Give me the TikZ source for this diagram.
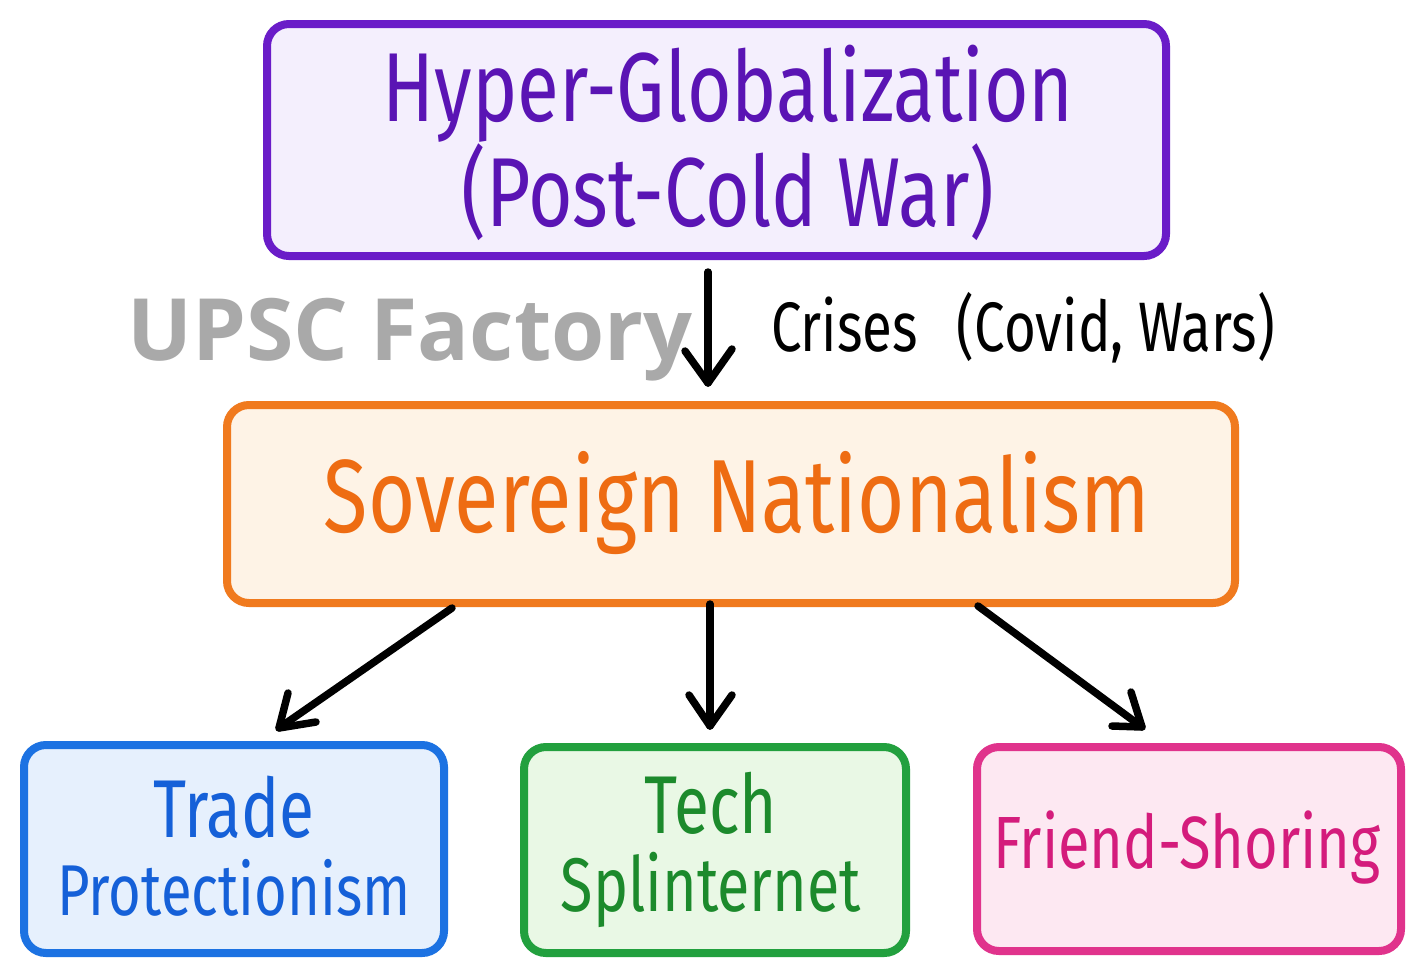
\documentclass[tikz,border=0pt]{standalone}
\usepackage{fontspec}
\usetikzlibrary{calc}
\newfontfamily\hand[FakeStretch=0.78]{Fira Sans}
\newfontfamily\wmark{Open Sans}
\definecolor{purpS}{HTML}{6A1CC8}
\definecolor{purpF}{HTML}{F4EFFD}
\definecolor{purpT}{HTML}{5A14B4}
\definecolor{oranS}{HTML}{F07A1E}
\definecolor{oranF}{HTML}{FEF3E6}
\definecolor{oranT}{HTML}{EE6C12}
\definecolor{blueS}{HTML}{1C72E2}
\definecolor{blueF}{HTML}{E6F0FD}
\definecolor{blueT}{HTML}{1560D8}
\definecolor{greenS}{HTML}{22A03E}
\definecolor{greenF}{HTML}{E9F8E5}
\definecolor{greenT}{HTML}{1C8A2C}
\definecolor{pinkS}{HTML}{E0338C}
\definecolor{pinkF}{HTML}{FDE8F2}
\definecolor{pinkT}{HTML}{D41C7C}
\definecolor{wmgray}{HTML}{A9A9A9}
\tikzset{
  boxrect/.style={draw, line width=8pt, rounded corners=22pt},
  lbl/.style={inner sep=0pt, align=center, font=\hand},
  flow/.style={line width=7.5pt, draw=black, line cap=round, line join=round},
  tip/.style={draw=black, line width=7.5pt, line cap=round, line join=round},
}
\begin{document}
\begin{tikzpicture}[x=1pt,y=-1pt]
\useasboundingbox[fill=white] (0,0) rectangle (1426,978);
% boxes
\path[boxrect, draw=purpS, fill=purpF] (267,24) rectangle (1166,256);
\node[inner sep=0pt, minimum width=899pt, minimum height=232pt] (top) at (716.5,140) {};
\node[lbl, text=purpT, font=\hand\fontsize{98}{86}\selectfont] (toptxt) at (728,143) {Hyper-Globalization\\(Post-Cold War)};

\path[boxrect, draw=oranS, fill=oranF] (227,405) rectangle (1235,603);
\node[inner sep=0pt, minimum width=1008pt, minimum height=198pt] (mid) at (731,504) {};
\node[lbl, text=oranT, font=\hand\fontsize{104}{110}\selectfont] (midtxt) at (737,503) {Sovereign Nationalism};

\path[boxrect, draw=blueS, fill=blueF] (24,745) rectangle (444,953);
\node[inner sep=0pt, minimum width=420pt, minimum height=208pt] (trade) at (234,849) {};
\node[lbl, text=blueT, font=\hand\fontsize{72}{78}\selectfont] (tradetxt) at (234,846) {{\fontsize{82}{78}\selectfont Trade}\\Protectionism};

\path[boxrect, draw=greenS, fill=greenF] (524,747) rectangle (906,953);
\node[inner sep=0pt, minimum width=382pt, minimum height=206pt] (tech) at (715,850) {};
\node[lbl, text=greenT, font=\hand\fontsize{76}{78}\selectfont] (techtxt) at (711,850) {{\fontsize{82}{78}\selectfont Tech}\\Splinternet};

\path[boxrect, draw=pinkS, fill=pinkF] (977,747) rectangle (1401,951);
\node[inner sep=0pt, minimum width=424pt, minimum height=204pt] (friend) at (1189,849) {};
\node[lbl, text=pinkT, font=\hand\fontsize{74}{80}\selectfont] (friendtxt) at (1187,848) {Friend-Shoring};

% watermark
\node[inner sep=0pt, text=wmgray, font=\wmark\bfseries\fontsize{86}{90}\selectfont] (wm) at (410,340) {UPSC Factory};
% label
\node[lbl, font=\hand\fontsize{70}{70}\selectfont] (crises) at (1023,328) {Crises\hspace{0.35em} (Covid, Wars)};

% connectors (shaft + open barb head drawn as two strokes)
\coordinate (a1) at (708,272);
\coordinate (a2) at (708,383);
\draw[flow] (a1) -- (a2);
\draw[tip] ($(a2)+(-23,-32)$) -- (a2) -- ($(a2)+(24,-34)$);
\coordinate (b1) at (452,608);
\coordinate (b2) at (279,728);
\draw[flow] (b1) -- (b2);
\draw[tip] ($(b2)+(9,-35)$) -- (b2) -- ($(b2)+(37,-6)$);
\coordinate (c1) at (710,604);
\coordinate (c2) at (710,726);
\draw[flow] (c1) -- (c2);
\draw[tip] ($(c2)+(-21,-31)$) -- (c2) -- ($(c2)+(22,-31)$);
\coordinate (d1) at (978,606);
\coordinate (d2) at (1142,727);
\draw[flow] (d1) -- (d2);
\draw[tip] ($(d2)+(-30,-1)$) -- (d2) -- ($(d2)+(-11,-35)$);
\end{tikzpicture}
\end{document}
